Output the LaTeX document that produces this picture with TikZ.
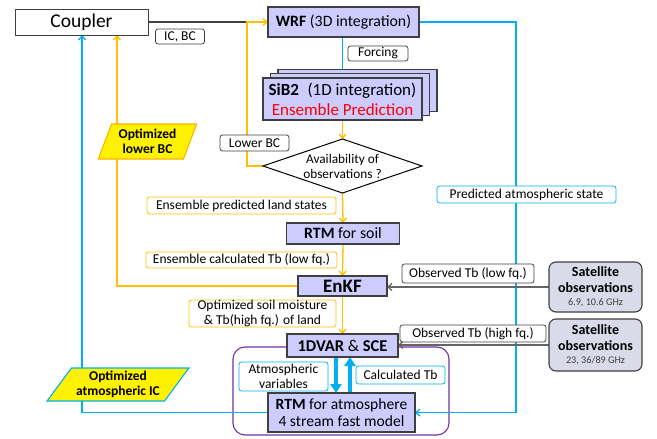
\documentclass[tikz,border=0pt]{standalone}
\usepackage{fontspec}
\setmainfont{Carlito}
\usetikzlibrary{shapes.geometric,arrows.meta,positioning}
\pgfdeclarelayer{bg}
\pgfsetlayers{bg,main}
\definecolor{yel}{HTML}{FFC000}
\definecolor{blu}{HTML}{00B0F0}
\definecolor{lav}{HTML}{CCCCFF}
\definecolor{dgr}{HTML}{3F3F3F}
\definecolor{satf}{HTML}{D9DCE8}
\definecolor{pur}{HTML}{7030A0}
\definecolor{ared}{HTML}{FF0000}
\tikzset{
  every node/.style={inner sep=0pt, outer sep=0pt, align=center},
  proc/.style={draw=dgr, line width=1.1pt, fill=lav, font=\fontsize{15.8}{18}\selectfont},
  lbl/.style={draw=dgr, line width=0.8pt, fill=white, rounded corners=2.5pt, font=\fontsize{13.5}{15}\selectfont},
  ylbl/.style={lbl, draw=yel},
  blbl/.style={lbl, draw=blu},
  satbox/.style={draw=dgr, line width=1.1pt, fill=satf, rounded corners=7pt, minimum width=93pt, font=\bfseries\fontsize{14}{16}\selectfont},
  yline/.style={draw=yel, line width=1.3pt},
  bline/.style={draw=blu, line width=1.3pt},
  gline/.style={draw=dgr!80, line width=1.3pt},
  tip/.style={-{Straight Barb[length=4pt,width=7pt]}},
  para/.style={trapezium, trapezium stretches=true, fill=yellow, line width=1.1pt, font=\bfseries\fontsize{13.5}{15.5}\selectfont},
}
\newcommand{\smallghz}[1]{{\mdseries\fontsize{10.2}{12}\selectfont\color{dgr}#1}}
\begin{document}
\begin{tikzpicture}[x=1pt,y=-1pt]
\useasboundingbox (0,0) rectangle (657,439);

% nodes
\node[draw=dgr, line width=1pt, fill=white, minimum width=133pt, minimum height=26pt, font=\fontsize{19.5}{22}\selectfont] (coupler) at (81.5,22) {Coupler};
\node[lbl, minimum width=49pt, minimum height=15pt] (icbc) at (180,36.5) {IC, BC};
\node[proc, minimum width=151pt, minimum height=30pt] (wrf) at (343.5,22) {\textbf{WRF} (3D integration)};
\node[lbl, minimum width=60pt, minimum height=15pt] (forcing) at (378,53.5) {Forcing};
\node[proc, minimum width=159pt, minimum height=42pt] (sibb) at (357.5,90.5) {};
\node[proc, minimum width=159pt, minimum height=42pt] (sibm) at (350,94.5) {};
\node[proc, minimum width=159pt, minimum height=42pt, font=\fontsize{17}{20}\selectfont] (sibf) at (342.5,99) {\textbf{SiB2}\enspace(1D integration)\\\textcolor{ared}{Ensemble Prediction}};
\node[diamond, aspect=3, draw=black, line width=1pt, fill=white, minimum width=159pt, minimum height=54pt, font=\fontsize{13.3}{15}\selectfont] (dia) at (342.5,166) {Availability of\\observations ?};
\node[lbl, minimum width=69pt, minimum height=16pt] (lowerbc) at (254.5,143) {Lower BC};
\node[proc, minimum width=113pt, minimum height=21pt] (rtmsoil) at (343,233.5) {\textbf{RTM} for soil};
\node[ylbl, minimum width=189pt, minimum height=17pt] (epls) at (241.5,205.5) {Ensemble predicted land states};
\node[ylbl, minimum width=191pt, minimum height=16pt] (ectb) at (241.5,260) {Ensemble calculated Tb (low fq.)};
\node[proc, minimum width=89pt, minimum height=20pt, font=\bfseries\fontsize{19}{20}\selectfont] (enkf) at (342.5,286) {EnKF};
\node[ylbl, minimum width=147pt, minimum height=27pt] (optsoil) at (262.5,313.5) {Optimized soil moisture\\\& Tb(high fq.) of land};
\node[proc, minimum width=111pt, minimum height=23pt, font=\fontsize{16.5}{18}\selectfont] (dvar) at (342.5,345.5) {\textbf{1DVAR} \& \textbf{SCE}};
\node[proc, minimum width=147pt, minimum height=39pt, font=\fontsize{15.6}{17.5}\selectfont] (rtmatm) at (341.5,412.5) {\textbf{RTM} for atmosphere\\4 stream fast model};
\node[blbl, minimum width=89pt, minimum height=29pt] (atmvar) at (283.5,376.5) {Atmospheric\\variables};
\node[blbl, minimum width=89pt, minimum height=18pt] (calctb) at (400.5,375) {Calculated Tb};
\node[blbl, minimum width=179pt, minimum height=17pt] (pas) at (526.5,194.5) {Predicted atmospheric state};
\node[satbox, minimum height=50pt] (sat1) at (595.5,287) {Satellite\\observations\\[-3pt]\smallghz{6.9, 10.6 GHz}};
\node[satbox, minimum height=52pt] (sat2) at (595.5,345) {Satellite\\observations\\[-3pt]\smallghz{23, 36/89 GHz}};
\node[lbl, minimum width=132pt, minimum height=19pt] (obslow) at (468,273.5) {Observed Tb (low fq.)};
\node[lbl, minimum width=146pt, minimum height=17pt] (obshigh) at (473,333.5) {Observed Tb (high fq.)};

% parallelograms
\node[para, draw=yel!80!orange, trapezium left angle=67, trapezium right angle=113, minimum width=99pt, minimum height=35pt] (optlbc) at (147.5,141.5) {Optimized\\lower BC};
\node[para, draw=blu, trapezium left angle=51, trapezium right angle=129, minimum width=142pt, minimum height=33pt] (optaic) at (118,384.5) {Optimized\\atmospheric IC};

% junction coordinates
\coordinate (jlbc) at (247,22);
\coordinate (cy) at (117,35);
\coordinate (cb) at (82,35);
\coordinate (cw) at (516,22);

\begin{pgfonlayer}{bg}
\draw[pur, line width=1.1pt, rounded corners=12pt] (233,347) rectangle (449,435);
\draw[dgr, line width=1.3pt] (coupler.east) -- (jlbc);
\draw[yline, tip] (dia.west) -| (jlbc) -- (wrf.west);
\draw[bline, tip] (wrf.east) -- (cw) |- (rtmatm.east);
\draw[bline, tip] (wrf.south -| sibf.north) -- (sibf.north);
\draw[yline, tip] (sibf.south) -- (dia.north);
\draw[yline, tip] (dia.south) -- (rtmsoil.north);
\draw[yline, tip] (rtmsoil.south) -- (enkf.north);
\draw[yline, tip] (enkf.south) -- (dvar.north);
\draw[yline, tip] (enkf.west) -| (cy);
\draw[bline, tip] (rtmatm.west) -| (cb);
\draw[gline, tip] (sat1.west) -- (sat1.west -| enkf.east);
\draw[gline, tip] (sat2.west) -- (sat2.west -| dvar.east);
\draw[blu, line width=4pt, -{Triangle[length=9pt,width=11pt]}] ([xshift=-6.5pt]dvar.south) -- ([xshift=-6.5pt]dvar.south |- rtmatm.north);
\draw[blu, line width=4pt, -{Triangle[length=9pt,width=11pt]}] ([xshift=7.5pt]dvar.south |- rtmatm.north) -- ([xshift=7.5pt]dvar.south);
\end{pgfonlayer}
\end{tikzpicture}
\end{document}
